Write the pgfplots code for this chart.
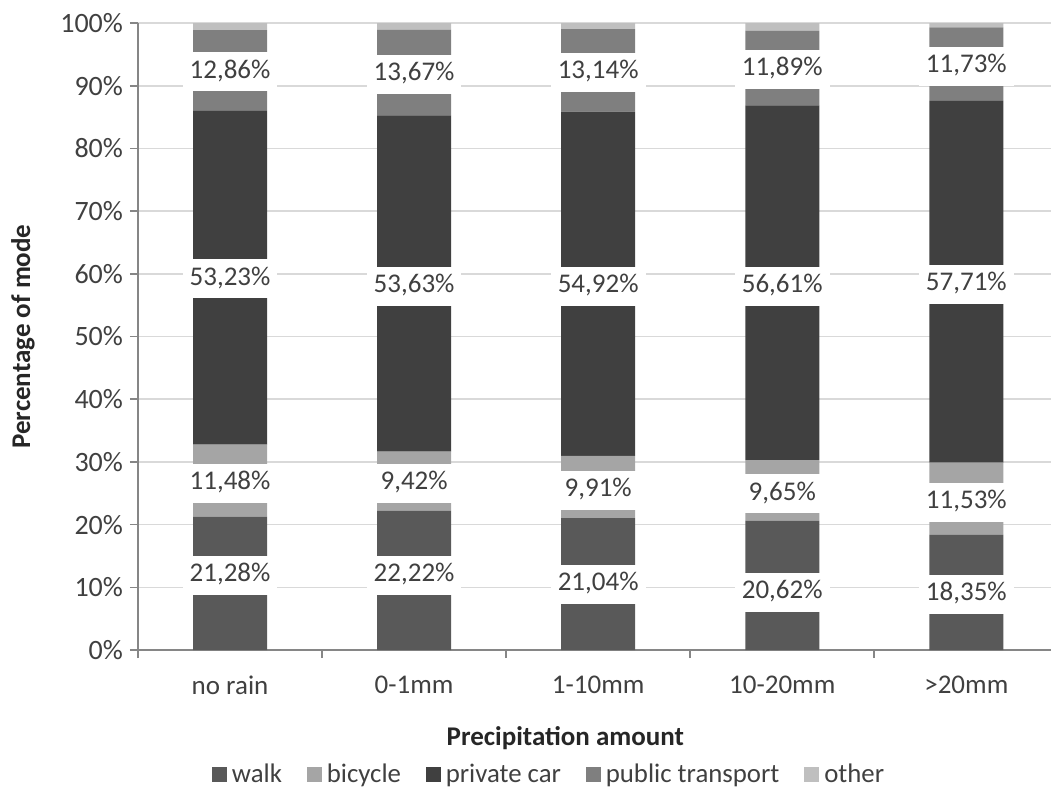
\documentclass[border=0pt]{standalone}
\usepackage{pgfplots}
\pgfplotsset{compat=1.18}
\usepackage{pgfplotstable}
\usepackage{fontspec}
\setmainfont{Carlito}[Numbers=Monospaced]
\definecolor{walkc}{HTML}{595959}
\definecolor{bikec}{HTML}{A5A5A5}
\definecolor{carc}{HTML}{404040}
\definecolor{ptc}{HTML}{7F7F7F}
\definecolor{otherc}{HTML}{BFBFBF}
\definecolor{gridc}{HTML}{D9D9D9}
\definecolor{axisc}{HTML}{868686}
\definecolor{txtc}{HTML}{404040}

\pgfplotstableread{
x walk bicycle car pt other
0 21.28 11.48 53.23 12.86 1.15
1 22.22 9.42 53.63 13.67 1.06
2 21.04 9.91 54.92 13.14 0.99
3 20.62 9.65 56.61 11.89 1.23
4 18.35 11.53 57.71 11.73 0.68
}\modes

\pgfplotstableread{
x y lab
0 11.9 21,28
1 11.9 22,22
2 10.5 21,04
3 9.2 20,62
4 8.9 18,35
0 26.6 11,48
1 26.6 9,42
2 25.5 9,91
3 24.9 9,65
4 23.6 11,53
0 59.2 53,23
1 58.0 53,63
2 58.0 54,92
3 58.0 56,61
4 58.3 57,71
0 92.2 12,86
1 91.8 13,67
2 92.1 13,14
3 92.6 11,89
4 93.1 11,73
}\labels

\pgfplotsset{
  common/.style={
    width=456.5pt, height=313.5pt, scale only axis,
    xmin=-0.5, xmax=4.46, ymin=0, ymax=100,
  }
}

\begin{document}
\begin{tikzpicture}
\useasboundingbox (-69pt,-69.5pt) rectangle (456.5pt,325pt);
\begin{axis}[
  common,
  ybar stacked, bar width=37pt,
  axis x line*=bottom, axis y line*=left,
  axis line style={draw=axisc, line width=0.8pt, -},
  xtick={0,1,2,3,4},
  xticklabels={no rain,0-1mm,1-10mm,10-20mm,>20mm},
  minor xtick={-0.5,0.5,1.5,2.5,3.5},
  major x tick style={draw=none},
  tick align=outside,
  major tick length=4pt, minor tick length=4pt,
  tick style={draw=axisc, line width=0.8pt},
  ytick={0,10,...,100},
  yticklabels={0\%,10\%,20\%,30\%,40\%,50\%,60\%,70\%,80\%,90\%,100\%},
  ymajorgrids, grid style={draw=gridc, line width=0.8pt},
  ticklabel style={font=\fontsize{13.5}{16}\selectfont, text=txtc},
  yticklabel style={font=\fontsize{14}{16}\selectfont},
  xticklabel style={yshift=-5.5pt},
  xlabel={Precipitation amount},
  ylabel={Percentage of mode},
  xlabel style={at={(axis description cs:0.468,-0.140)}, anchor=center, font=\bfseries\fontsize{13.5}{16}\selectfont, text=black!85},
  ylabel style={at={(axis description cs:-0.126,0.5)}, anchor=center, font=\bfseries\fontsize{13.5}{16}\selectfont, text=black!85},
  every axis plot post/.append style={draw=none, legend image code/.code={\path[##1] (0pt,-3.7pt) rectangle (7.4pt,3.7pt);}},
  legend style={at={(axis description cs:0.452,-0.199)}, anchor=center, draw=none, fill=none,
    legend columns=-1, font=\fontsize{13.4}{16}\selectfont, text=txtc,
    inner sep=0pt, nodes={inner ysep=0.5pt, inner xsep=2.5pt},
    /tikz/every even column/.append style={column sep=10pt}},
]
\addplot[fill=walkc] table[x=x,y=walk] {\modes};
\addplot[fill=bikec] table[x=x,y=bicycle] {\modes};
\addplot[fill=carc] table[x=x,y=car] {\modes};
\addplot[fill=ptc] table[x=x,y=pt] {\modes};
\addplot[fill=otherc] table[x=x,y=other] {\modes};
\legend{walk,bicycle,private car,public transport,other}
\end{axis}
\begin{axis}[common, hide axis]
\addplot[only marks, mark=*, mark size=0pt, mark options={draw=none,fill=none},
  point meta=explicit symbolic,
  nodes near coords={\pgfplotspointmeta\%},
  nodes near coords align=center,
  every node near coord/.append style={anchor=center, fill=white, inner xsep=3.5pt, inner ysep=0pt,
    minimum height=19.5pt, text height=0.89em, text depth=0.25em, font=\fontsize{13.5}{16}\selectfont, text=txtc}]
  table[x=x,y=y,meta=lab] {\labels};
\end{axis}
\end{tikzpicture}
\end{document}
